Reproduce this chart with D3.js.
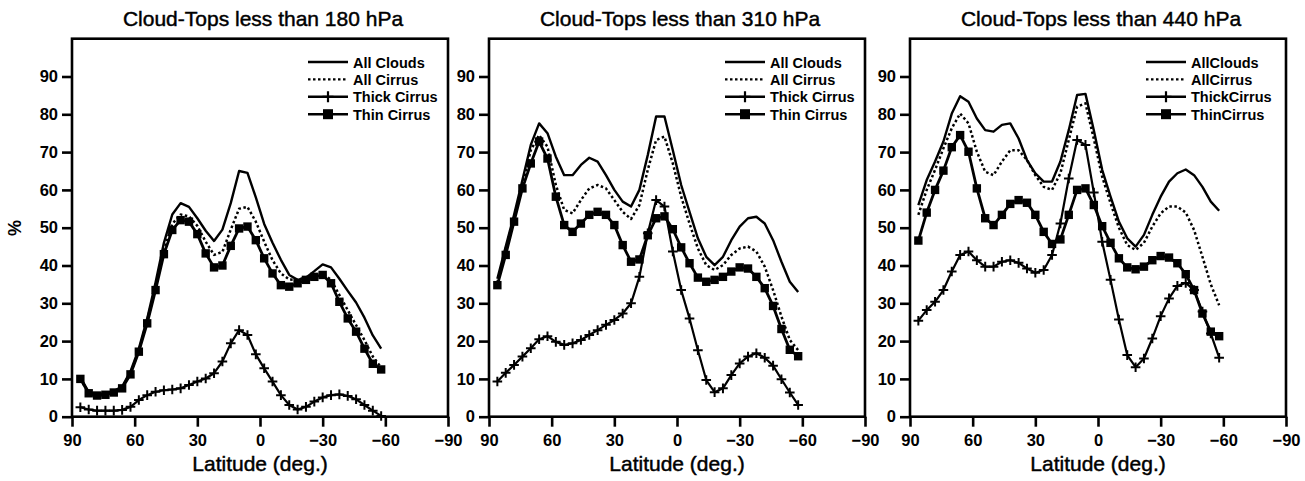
<!DOCTYPE html>
<html>
<head>
<meta charset="utf-8">
<script src="https://cdnjs.cloudflare.com/ajax/libs/d3/7.8.5/d3.min.js"></script>
<style>
	body { margin: 0; background: #fff; }
	svg { display: block; }
</style>
</head>
<body>
<div id="chart"></div>
<script>
//data
const latitudes = [86, 82, 78, 74, 70, 66, 62, 58, 54, 50, 46, 42, 38, 34, 30, 26, 22, 18, 14, 10, 6, 2, -2, -6, -10, -14, -18, -22, -26, -30, -34, -38, -42, -46, -50, -54, -58];

const panelTitles = ['Cloud-Tops less than 180 hPa', 'Cloud-Tops less than 310 hPa', 'Cloud-Tops less than 440 hPa'];

const legendLabels = [
	['All Clouds', 'All Cirrus', 'Thick Cirrus', 'Thin Cirrus'],
	['All Clouds', 'All Cirrus', 'Thick Cirrus', 'Thin Cirrus'],
	['AllClouds', 'AllCirrus', 'ThickCirrus', 'ThinCirrus'],
];

const allClouds180 = [10.5, 6.5, 6, 6.2, 6.8, 8, 12, 18, 26, 35.5, 46, 53.5, 56.5, 55.5, 52.5, 49.2, 46.5, 49.5, 56.5, 65, 64.5, 58, 51, 46, 41.5, 37.5, 36.2, 36.8, 38.5, 40.3, 39.5, 36.5, 33.3, 30.2, 26.2, 21.5, 18];
const allCirrus180 = [10, 6.3, 5.7, 6, 6.5, 7.8, 11.5, 17.5, 25.5, 34.5, 44, 51, 53.5, 53, 50.5, 46.3, 42.8, 43.6, 49.5, 55, 55.5, 51.6, 46.3, 41.4, 37.9, 36.3, 36.2, 36.9, 37.5, 37.9, 36.2, 32.2, 28.2, 24.2, 20.3, 15.9, 13];
const thickCirrus180 = [2.5, 1.9, 1.6, 1.6, 1.6, 1.8, 2.6, 4.4, 5.7, 6.6, 7, 7.2, 7.5, 8.4, 9.3, 10.1, 11.5, 14.6, 19.4, 22.9, 21.6, 16.5, 12.8, 9.3, 5.7, 3.1, 1.9, 2.6, 4, 5.1, 5.7, 5.9, 5.5, 4.6, 3.1, 1.6, 0.2];
const thinCirrus180 = [10, 6.2, 5.6, 5.8, 6.4, 7.5, 11.2, 17.2, 24.7, 33.5, 43, 49.4, 52, 51.6, 48.3, 43.2, 39.5, 40, 45.2, 49.8, 50.3, 46.7, 41.9, 37.9, 34.8, 34.4, 35.3, 36.2, 37, 37.5, 35.3, 30.4, 26, 22.5, 18, 14, 12.5];

const allClouds310 = [36.5, 45, 53.4, 62.6, 71.9, 77.6, 75, 68.8, 63.9, 63.9, 66.6, 68.5, 67.5, 63.9, 60, 56.9, 55.6, 60, 69.2, 79.4, 79.4, 70.5, 61.3, 54.2, 47.2, 42.3, 40.1, 42.3, 46.7, 50.3, 52.5, 52.9, 51.1, 46.7, 41, 35.7, 33];
const allCirrus310 = [35.5, 44.5, 52.5, 61.3, 70.5, 74.5, 71.4, 61.3, 54.7, 53.8, 57.3, 60.4, 61.3, 60.4, 57.3, 54.2, 52.3, 56, 65.3, 73.2, 74.1, 67, 58.2, 51.1, 44.5, 40.1, 38.8, 40.1, 42.8, 44.5, 45, 43.7, 39.7, 33.5, 26.5, 20.3, 17.6];
const thickCirrus310 = [9.3, 11.6, 13.7, 15.9, 18.1, 20.5, 21.3, 19.8, 19, 19.4, 20.3, 21.6, 22.9, 24.3, 25.6, 27.3, 30, 37, 48.5, 57.3, 55.6, 43.7, 33.5, 26, 17.6, 9.7, 6.5, 7.5, 11, 14.1, 15.9, 16.8, 15.6, 13.5, 9.9, 6.4, 3.1];
const thinCirrus310 = [34.8, 42.8, 51.6, 60.4, 67, 72.8, 68.3, 58.2, 50.7, 48.9, 51.1, 53.4, 54.2, 53.4, 50.7, 45.4, 41, 41.6, 48, 52.5, 53, 49.6, 44.8, 40.6, 36.8, 35.7, 36.2, 37, 38.4, 39.5, 39.2, 37, 34, 29.3, 23.2, 17.7, 16];

const allClouds440 = [56, 62.6, 67.5, 72.8, 80.2, 84.8, 83.3, 78.9, 75.8, 75.4, 77.2, 77.6, 73.6, 67.9, 64.4, 62.2, 62.2, 67.5, 75.8, 85.1, 85.4, 75.8, 65.3, 58.2, 51.6, 47.2, 45, 48.1, 53.4, 58.2, 62.2, 64.4, 65.4, 63.9, 60.8, 56.9, 54.5];
const allCirrus440 = [53.4, 60, 65.3, 71, 76.3, 80.2, 77.6, 70.1, 64.8, 63.9, 67.5, 70.5, 70.5, 67.9, 63.9, 60.8, 60, 64.4, 73.2, 82, 82.9, 73.5, 63.5, 56.5, 50, 45.4, 44.1, 46, 50.3, 53.8, 55.6, 55.6, 54, 49.4, 42.3, 35, 29.5];
const thickCirrus440 = [25.4, 28.2, 30.4, 33.5, 38.4, 42.8, 43.7, 41.4, 39.7, 39.7, 41, 41.4, 40.7, 39.2, 38.1, 38.8, 42.8, 51.1, 63, 73.2, 71.9, 59.3, 46.3, 36.2, 25.7, 16.3, 13.1, 15.4, 20.7, 26.6, 31.3, 34.6, 35.4, 33.5, 27.8, 22, 15.6];
const thinCirrus440 = [46.6, 54, 60, 65.1, 71.3, 74.5, 70.1, 60.4, 52.5, 50.7, 53.4, 56.3, 57.3, 56.6, 53.4, 48.9, 45.7, 46.9, 53.4, 60, 60.4, 56, 50.4, 46, 41.9, 39.5, 39, 39.7, 41.4, 42.5, 42.1, 40.6, 37.7, 33.5, 27.3, 22.5, 21.3];

const xTicks = [90, 60, 30, 0, -30, -60, -90];
const yTicks = [0, 10, 20, 30, 40, 50, 60, 70, 80, 90];

const panels = [
	{ title: panelTitles[0], labels: legendLabels[0], series: [allClouds180, allCirrus180, thickCirrus180, thinCirrus180] },
	{ title: panelTitles[1], labels: legendLabels[1], series: [allClouds310, allCirrus310, thickCirrus310, thinCirrus310] },
	{ title: panelTitles[2], labels: legendLabels[2], series: [allClouds440, allCirrus440, thickCirrus440, thinCirrus440] },
];

render();

function render() {
	const width = 1305;
	const height = 481;
	const panelLefts = [72, 489, 910];

	const svg = d3
		.select('#chart')
		.append('svg')
		.attr('width', width)
		.attr('height', height)
		.style('font-family', '"Liberation Sans", Arial, Helvetica, sans-serif');

	svg.append('rect').attr('width', width).attr('height', height).style('fill', '#fff');

	panels.forEach((panel, i) => {
		drawPanel(svg, panel, panelLefts[i], i === 0);
	});
}

function drawPanel(svg, panel, left, showYLabel) {
	const plotWidth = 376;
	const x = d3.scaleLinear().domain([90, -90]).range([left, left + plotWidth]);
	const y = d3.scaleLinear().domain([0, 100]).range([416.7, 38.7]);
	const g = svg.append('g');

	//axes
	const yAxis = d3.axisLeft(y).tickValues(yTicks).tickSize(10).tickPadding(4);
	g.append('g')
		.attr('transform', translation(left, 0))
		.call(yAxis)
		.call((a) => a.select('.domain').remove())
		.call(styleAxis);

	const xAxis = d3.axisBottom(x).tickValues(xTicks).tickSize(10).tickPadding(8);
	g.append('g')
		.attr('transform', translation(0, y(0)))
		.call(xAxis)
		.call((a) => a.select('.domain').remove())
		.call(styleAxis);

	//frame
	g.append('rect')
		.attr('x', left)
		.attr('y', y(100))
		.attr('width', plotWidth)
		.attr('height', y(0) - y(100))
		.style('fill', 'none')
		.style('stroke', '#000')
		.style('stroke-width', 2.6);

	//lines
	const line = d3
		.line()
		.x((d) => x(d[0]))
		.y((d) => y(d[1]));

	const styles = [
		{ width: 2.4, dash: null },
		{ width: 2.5, dash: '2.5,2.5' },
		{ width: 2.2, dash: null },
		{ width: 2.8, dash: null },
	];

	panel.series.forEach((values, k) => {
		const points = latitudes.map((lat, j) => [lat, values[j]]);
		g.append('path')
			.datum(points)
			.attr('d', line)
			.style('fill', 'none')
			.style('stroke', '#000')
			.style('stroke-width', styles[k].width)
			.style('stroke-dasharray', styles[k].dash)
			.style('stroke-linejoin', 'round');

		if (k === 2) {
			g.selectAll(null)
				.data(points)
				.enter()
				.append('path')
				.attr('d', (d) => crossPath(x(d[0]), y(d[1]), 4.8))
				.style('stroke', '#000')
				.style('stroke-width', 2);
		}
		if (k === 3) {
			g.selectAll(null)
				.data(points)
				.enter()
				.append('rect')
				.attr('x', (d) => x(d[0]) - 4.2)
				.attr('y', (d) => y(d[1]) - 4.2)
				.attr('width', 8.4)
				.attr('height', 8.4)
				.style('fill', '#000');
		}
	});

	//legend
	const legend = g.append('g').attr('transform', translation(left + 236, 62));
	panel.labels.forEach((label, k) => {
		const row = legend.append('g').attr('transform', translation(0, k * 17.4));
		row.append('line')
			.attr('x1', 0)
			.attr('x2', 40)
			.style('stroke', '#000')
			.style('stroke-width', k === 1 ? 2.4 : 2.6)
			.style('stroke-dasharray', styles[k].dash);
		if (k === 2) {
			row.append('path').attr('d', crossPath(20, 0, 5.5)).style('stroke', '#000').style('stroke-width', 2.2);
		}
		if (k === 3) {
			row.append('rect').attr('x', 15).attr('y', -5).attr('width', 10).attr('height', 10).style('fill', '#000');
		}
		row.append('text')
			.attr('x', 45)
			.attr('y', 5.5)
			.text(label)
			.style('font-size', '14.5px')
			.style('font-weight', 'bold');
	});

	//titles
	g.append('text')
		.attr('x', left + plotWidth / 2 + 3)
		.attr('y', 26)
		.attr('text-anchor', 'middle')
		.style('font-size', '21px')
		.style('stroke', '#000')
		.style('stroke-width', 0.45)
		.text(panel.title);

	g.append('text')
		.attr('x', left + plotWidth / 2)
		.attr('y', 471)
		.attr('text-anchor', 'middle')
		.style('font-size', '21px')
		.style('stroke', '#000')
		.style('stroke-width', 0.45)
		.text('Latitude (deg.)');

	if (showYLabel) {
		g.append('text')
			.attr('transform', translation(21, 228) + ' rotate(-90)')
			.attr('text-anchor', 'middle')
			.style('font-size', '18px')
			.style('font-weight', 'bold')
			.text('%');
	}
}

function styleAxis(a) {
	a.selectAll('.tick line').style('stroke', '#000').style('stroke-width', 2.6);
	a.selectAll('.tick text')
		.style('fill', '#000')
		.style('font-size', '16.5px')
		.style('font-weight', 'bold')
		.style('font-family', '"Liberation Sans", Arial, Helvetica, sans-serif');
}

//utils
function crossPath(cx, cy, r) {
	return `M${cx - r},${cy}H${cx + r}M${cx},${cy - r}V${cy + r}`;
}

function translation(x, y) {
	return `translate(${x}, ${y})`;
}
</script>
</body>
</html>
